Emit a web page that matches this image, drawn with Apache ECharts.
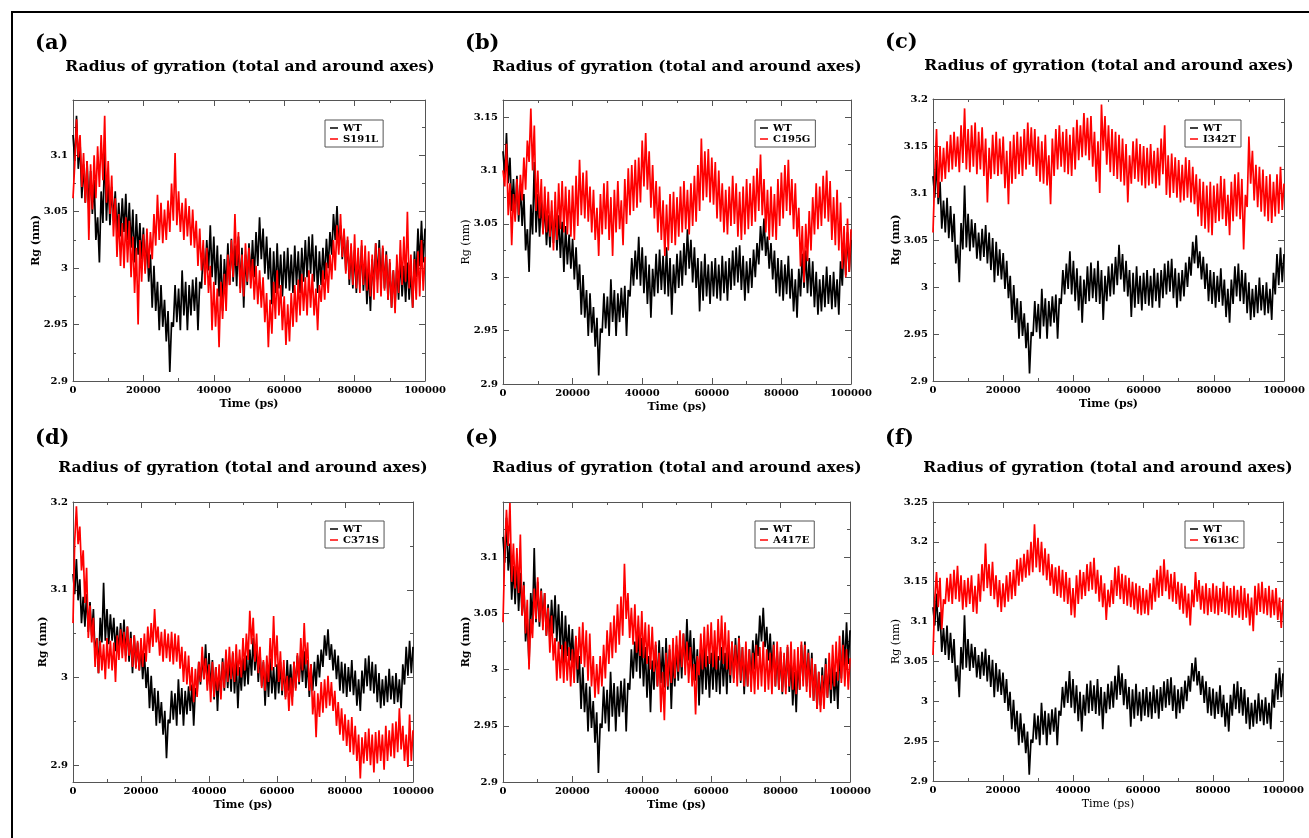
<!DOCTYPE html>
<html>
<head>
<meta charset="utf-8">
<title>Radius of gyration</title>
<script src="https://cdn.jsdelivr.net/npm/echarts@6/dist/echarts.min.js"></script>
<style>
  html, body { margin: 0; padding: 0; background: #fff; }
  #main { width: 1309px; height: 838px; }
</style>
</head>
<body>
<div id="main"></div>
<script>
// The traces are dense MD noise; each run is read off the picture as the
// top edge of its band (at 0, 1000, ... 100000 ps) and the bottom edge
// (at 500, 1500, ... 99500 ps). The line alternates between the two.
const upperStep = 1000

// WT is the same reference run in every panel
const wtUpper = [
  3.118, 3.135, 3.112, 3.092, 3.095, 3.086, 3.078, 3.045, 3.068, 3.108,
  3.078, 3.072, 3.068, 3.058, 3.062, 3.066, 3.058, 3.052, 3.048, 3.040,
  3.036, 3.028, 3.012, 3.002, 2.988, 2.985, 2.972, 2.962, 2.952, 2.985,
  2.982, 2.998, 2.988, 2.985, 2.990, 2.992, 2.988, 3.018, 3.025, 3.038,
  3.028, 3.020, 3.012, 3.008, 3.022, 3.026, 3.020, 3.028, 3.018, 3.012,
  3.022, 3.025, 3.032, 3.045, 3.035, 3.028, 3.018, 3.015, 3.022, 3.012,
  3.015, 3.018, 3.012, 3.020, 3.015, 3.018, 3.025, 3.028, 3.030, 3.020,
  3.015, 3.018, 3.026, 3.032, 3.048, 3.055, 3.038, 3.032, 3.025, 3.018,
  3.016, 3.012, 3.020, 3.008, 2.998, 3.008, 3.022, 3.025, 3.018, 3.015,
  3.005, 2.998, 3.002, 3.010, 3.002, 3.005, 2.998, 3.015, 3.035, 3.042,
  3.035
]
const wtLower = [
  3.095, 3.088, 3.062, 3.058, 3.052, 3.048, 3.025, 3.005, 3.040, 3.042,
  3.038, 3.042, 3.030, 3.028, 3.032, 3.025, 3.018, 3.005, 3.012, 3.008,
  2.998, 2.988, 2.965, 2.962, 2.945, 2.948, 2.935, 2.908, 2.948, 2.952,
  2.945, 2.958, 2.945, 2.958, 2.962, 2.945, 2.982, 2.992, 2.998, 2.992,
  2.985, 2.975, 2.962, 2.982, 2.985, 2.988, 2.984, 2.982, 2.965, 2.985,
  2.990, 2.992, 3.002, 3.008, 2.995, 2.990, 2.968, 2.978, 2.982, 2.975,
  2.982, 2.980, 2.978, 2.985, 2.978, 2.988, 2.992, 2.995, 2.988, 2.978,
  2.985, 2.990, 3.000, 3.012, 3.025, 3.020, 3.008, 2.998, 2.985, 2.982,
  2.978, 2.984, 2.980, 2.968, 2.962, 2.982, 2.990, 2.985, 2.982, 2.972,
  2.965, 2.968, 2.972, 2.975, 2.970, 2.972, 2.965, 2.992, 3.002, 3.005
]

const s191lUpper = [
  3.062, 3.132, 3.118, 3.102, 3.095, 3.092, 3.100, 3.108, 3.118, 3.135,
  3.095, 3.082, 3.062, 3.048, 3.040, 3.045, 3.042, 3.028, 3.018, 3.025,
  3.030, 3.035, 3.032, 3.048, 3.065, 3.058, 3.052, 3.060, 3.075, 3.102,
  3.068, 3.058, 3.062, 3.055, 3.052, 3.042, 3.035, 3.025, 3.018, 3.002,
  2.988, 2.982, 2.988, 2.995, 3.012, 3.025, 3.048, 3.032, 3.012, 3.022,
  3.018, 3.008, 3.002, 2.998, 2.992, 2.978, 2.972, 2.988, 2.998, 2.985,
  2.975, 2.968, 2.978, 2.985, 2.990, 2.995, 2.992, 2.998, 2.995, 2.982,
  2.985, 2.998, 3.005, 3.012, 3.025, 3.038, 3.048, 3.035, 3.028, 3.022,
  3.030, 3.018, 3.025, 3.020, 3.015, 3.012, 3.022, 3.018, 3.020, 3.012,
  3.008, 2.998, 3.012, 3.025, 3.028, 3.050, 3.012, 3.008, 3.015, 3.025,
  3.010
]
const s191lLower = [
  3.092, 3.098, 3.072, 3.058, 3.025, 3.052, 3.062, 3.072, 3.078, 3.058,
  3.048, 3.028, 3.010, 3.002, 3.000, 3.005, 2.992, 2.978, 2.950, 2.988,
  2.995, 3.000, 3.008, 3.020, 3.025, 3.022, 3.025, 3.032, 3.042, 3.038,
  3.032, 3.025, 3.028, 3.020, 3.018, 3.002, 2.998, 2.985, 2.978, 2.945,
  2.948, 2.930, 2.955, 2.962, 2.985, 2.992, 3.002, 2.978, 2.975, 2.988,
  2.982, 2.972, 2.968, 2.965, 2.952, 2.930, 2.942, 2.955, 2.958, 2.945,
  2.932, 2.935, 2.948, 2.952, 2.958, 2.962, 2.958, 2.965, 2.958, 2.945,
  2.970, 2.972, 2.978, 2.990, 2.998, 3.012, 3.010, 2.995, 2.990, 2.985,
  2.982, 2.978, 2.985, 2.980, 2.975, 2.972, 2.978, 2.975, 2.980, 2.972,
  2.965, 2.960, 2.978, 2.985, 2.988, 2.982, 2.965, 2.972, 2.975, 2.980
]

const c195gUpper = [
  3.100, 3.125, 3.088, 3.078, 3.092, 3.096, 3.112, 3.128, 3.158, 3.142,
  3.100, 3.092, 3.085, 3.080, 3.072, 3.080, 3.088, 3.090, 3.085, 3.082,
  3.086, 3.095, 3.110, 3.098, 3.100, 3.085, 3.082, 3.065, 3.078, 3.088,
  3.090, 3.075, 3.082, 3.090, 3.072, 3.092, 3.102, 3.105, 3.110, 3.112,
  3.128, 3.135, 3.118, 3.105, 3.090, 3.085, 3.072, 3.068, 3.078, 3.080,
  3.075, 3.085, 3.090, 3.082, 3.088, 3.095, 3.105, 3.130, 3.118, 3.120,
  3.112, 3.108, 3.100, 3.088, 3.082, 3.085, 3.095, 3.088, 3.080, 3.085,
  3.092, 3.088, 3.095, 3.102, 3.115, 3.092, 3.082, 3.085, 3.078, 3.092,
  3.098, 3.105, 3.110, 3.092, 3.088, 3.065, 3.048, 3.050, 3.062, 3.075,
  3.088, 3.085, 3.095, 3.100, 3.090, 3.075, 3.082, 3.070, 3.048, 3.055,
  3.045
]
const c195gLower = [
  3.085, 3.058, 3.030, 3.052, 3.058, 3.072, 3.082, 3.108, 3.100, 3.062,
  3.055, 3.040, 3.042, 3.038, 3.025, 3.035, 3.045, 3.042, 3.040, 3.038,
  3.035, 3.048, 3.058, 3.055, 3.052, 3.042, 3.035, 3.020, 3.040, 3.045,
  3.035, 3.020, 3.042, 3.045, 3.030, 3.050, 3.058, 3.062, 3.065, 3.070,
  3.085, 3.082, 3.065, 3.055, 3.042, 3.035, 3.020, 3.025, 3.032, 3.030,
  3.038, 3.042, 3.045, 3.040, 3.048, 3.052, 3.062, 3.072, 3.075, 3.070,
  3.068, 3.055, 3.052, 3.042, 3.040, 3.048, 3.050, 3.038, 3.035, 3.040,
  3.045, 3.048, 3.052, 3.062, 3.058, 3.042, 3.035, 3.038, 3.035, 3.048,
  3.055, 3.062, 3.058, 3.045, 3.038, 3.010, 2.995, 3.015, 3.025, 3.040,
  3.045, 3.048, 3.055, 3.052, 3.035, 3.030, 3.025, 3.008, 3.000, 3.005
]

const i342tUpper = [
  3.058, 3.168, 3.150, 3.148, 3.155, 3.162, 3.165, 3.160, 3.172, 3.190,
  3.168, 3.172, 3.175, 3.165, 3.170, 3.158, 3.148, 3.162, 3.165, 3.158,
  3.160, 3.145, 3.155, 3.162, 3.165, 3.160, 3.168, 3.175, 3.170, 3.168,
  3.160, 3.155, 3.162, 3.140, 3.158, 3.168, 3.172, 3.165, 3.168, 3.162,
  3.170, 3.178, 3.172, 3.185, 3.180, 3.182, 3.165, 3.155, 3.194, 3.182,
  3.172, 3.168, 3.165, 3.162, 3.158, 3.152, 3.140, 3.155, 3.158, 3.152,
  3.150, 3.148, 3.152, 3.145, 3.148, 3.158, 3.172, 3.140, 3.142, 3.138,
  3.135, 3.130, 3.138, 3.135, 3.128, 3.120, 3.115, 3.112, 3.108, 3.112,
  3.108, 3.110, 3.118, 3.115, 3.098, 3.112, 3.120, 3.122, 3.115, 3.098,
  3.160, 3.145, 3.130, 3.128, 3.125, 3.118, 3.120, 3.112, 3.120, 3.128,
  3.110
]
const i342tLower = [
  3.118, 3.095, 3.112, 3.115, 3.122, 3.125, 3.128, 3.122, 3.132, 3.125,
  3.122, 3.128, 3.120, 3.125, 3.118, 3.090, 3.115, 3.120, 3.118, 3.120,
  3.105, 3.088, 3.110, 3.115, 3.120, 3.118, 3.125, 3.130, 3.128, 3.118,
  3.112, 3.110, 3.108, 3.088, 3.118, 3.125, 3.128, 3.122, 3.120, 3.118,
  3.125, 3.135, 3.138, 3.140, 3.135, 3.128, 3.112, 3.100, 3.145, 3.130,
  3.122, 3.118, 3.115, 3.112, 3.108, 3.090, 3.110, 3.115, 3.112, 3.108,
  3.105, 3.108, 3.110, 3.105, 3.108, 3.120, 3.098, 3.095, 3.100, 3.095,
  3.090, 3.092, 3.095, 3.090, 3.088, 3.075, 3.065, 3.062, 3.058, 3.055,
  3.068, 3.070, 3.072, 3.065, 3.055, 3.070, 3.075, 3.072, 3.040, 3.085,
  3.110, 3.092, 3.085, 3.080, 3.075, 3.070, 3.068, 3.075, 3.078, 3.082
]

const c371sUpper = [
  3.062, 3.195, 3.172, 3.145, 3.125, 3.082, 3.068, 3.045, 3.042, 3.038,
  3.045, 3.042, 3.040, 3.048, 3.055, 3.052, 3.058, 3.045, 3.048, 3.042,
  3.045, 3.050, 3.058, 3.062, 3.078, 3.058, 3.052, 3.055, 3.050, 3.052,
  3.050, 3.048, 3.035, 3.030, 3.025, 3.012, 3.010, 3.018, 3.035, 3.022,
  3.015, 3.018, 3.012, 3.015, 3.018, 3.032, 3.035, 3.030, 3.038, 3.032,
  3.045, 3.050, 3.076, 3.068, 3.050, 3.035, 3.020, 3.025, 3.045, 3.070,
  3.048, 3.030, 3.020, 3.002, 3.000, 3.018, 3.028, 3.045, 3.062, 3.040,
  3.015, 2.985, 2.982, 2.995, 2.998, 3.002, 2.995, 2.985, 2.972, 2.965,
  2.958, 2.952, 2.955, 2.945, 2.935, 2.932, 2.938, 2.942, 2.935, 2.938,
  2.940, 2.935, 2.945, 2.940, 2.948, 2.950, 2.965, 2.945, 2.935, 2.958,
  2.940
]
const c371sLower = [
  3.155, 3.152, 3.122, 3.085, 3.045, 3.040, 3.012, 3.005, 3.008, 2.998,
  3.010, 3.008, 2.995, 3.020, 3.022, 3.018, 3.025, 3.012, 3.010, 3.008,
  3.012, 3.018, 3.028, 3.035, 3.040, 3.025, 3.018, 3.022, 3.018, 3.015,
  3.018, 3.010, 2.995, 2.992, 2.985, 2.972, 2.978, 2.995, 2.998, 2.985,
  2.972, 2.978, 2.985, 2.975, 2.988, 2.995, 2.998, 2.995, 3.002, 3.000,
  3.008, 3.020, 3.038, 3.018, 3.005, 2.988, 2.985, 2.995, 3.008, 3.012,
  2.995, 2.985, 2.975, 2.962, 2.968, 2.985, 2.995, 3.008, 3.015, 2.985,
  2.958, 2.932, 2.955, 2.960, 2.965, 2.968, 2.962, 2.945, 2.935, 2.928,
  2.922, 2.915, 2.912, 2.905, 2.885, 2.902, 2.905, 2.900, 2.892, 2.902,
  2.905, 2.895, 2.905, 2.910, 2.908, 2.915, 2.918, 2.905, 2.898, 2.905
]

const a417eUpper = [
  3.042, 3.142, 3.148, 3.112, 3.108, 3.120, 3.075, 3.062, 3.045, 3.072,
  3.082, 3.070, 3.068, 3.055, 3.048, 3.028, 3.025, 3.022, 3.025, 3.020,
  3.018, 3.030, 3.038, 3.042, 3.035, 3.032, 3.012, 3.005, 3.012, 3.022,
  3.035, 3.042, 3.048, 3.058, 3.065, 3.094, 3.068, 3.055, 3.058, 3.048,
  3.052, 3.042, 3.040, 3.038, 3.025, 3.015, 2.998, 3.015, 3.022, 3.028,
  3.030, 3.035, 3.032, 3.025, 3.020, 3.005, 3.012, 3.032, 3.038, 3.040,
  3.042, 3.035, 3.045, 3.048, 3.042, 3.035, 3.025, 3.022, 3.028, 3.020,
  3.025, 3.018, 3.015, 3.022, 3.020, 3.025, 3.018, 3.015, 3.022, 3.025,
  3.020, 3.015, 3.022, 3.025, 3.018, 3.020, 3.025, 3.022, 3.015, 3.010,
  3.005, 2.998, 2.995, 3.005, 3.015, 3.022, 3.025, 3.030, 3.022, 3.018,
  3.010
]
const a417eLower = [
  3.105, 3.110, 3.078, 3.072, 3.068, 3.048, 3.032, 3.000, 3.028, 3.045,
  3.042, 3.035, 3.030, 3.015, 3.008, 2.990, 2.992, 2.988, 2.990, 2.985,
  2.988, 3.000, 3.005, 3.002, 2.990, 2.985, 2.975, 2.978, 2.985, 2.992,
  3.005, 3.010, 3.015, 3.022, 3.030, 3.045, 3.028, 3.022, 3.015, 3.012,
  3.010, 3.005, 3.000, 2.998, 2.985, 2.962, 2.955, 2.985, 2.988, 2.992,
  2.998, 3.002, 2.995, 2.988, 2.985, 2.960, 2.995, 3.000, 3.002, 3.005,
  3.002, 3.000, 3.008, 3.005, 3.000, 2.995, 2.988, 2.985, 2.990, 2.985,
  2.985, 2.980, 2.978, 2.982, 2.985, 2.980, 2.982, 2.978, 2.985, 2.982,
  2.980, 2.978, 2.985, 2.982, 2.978, 2.982, 2.985, 2.980, 2.975, 2.972,
  2.965, 2.962, 2.965, 2.975, 2.982, 2.985, 2.990, 2.988, 2.985, 2.982
]

const y613cUpper = [
  3.058, 3.162, 3.155, 3.128, 3.155, 3.160, 3.165, 3.170, 3.158, 3.152,
  3.155, 3.158, 3.145, 3.160, 3.172, 3.198, 3.172, 3.175, 3.158, 3.152,
  3.148, 3.158, 3.162, 3.165, 3.178, 3.180, 3.185, 3.190, 3.200, 3.222,
  3.205, 3.200, 3.192, 3.185, 3.172, 3.168, 3.170, 3.165, 3.162, 3.155,
  3.142, 3.158, 3.165, 3.162, 3.172, 3.175, 3.180, 3.165, 3.158, 3.148,
  3.140, 3.152, 3.168, 3.170, 3.160, 3.158, 3.155, 3.150, 3.148, 3.145,
  3.142, 3.140, 3.148, 3.155, 3.165, 3.170, 3.178, 3.165, 3.160, 3.162,
  3.150, 3.148, 3.145, 3.135, 3.140, 3.162, 3.152, 3.145, 3.148, 3.142,
  3.148, 3.145, 3.142, 3.150, 3.145, 3.142, 3.145, 3.140, 3.145, 3.142,
  3.135, 3.130, 3.145, 3.148, 3.150, 3.142, 3.145, 3.140, 3.142, 3.130,
  3.128
]
const y613cLower = [
  3.128, 3.118, 3.090, 3.122, 3.125, 3.122, 3.128, 3.125, 3.115, 3.118,
  3.122, 3.112, 3.110, 3.125, 3.138, 3.142, 3.132, 3.128, 3.118, 3.112,
  3.118, 3.125, 3.128, 3.132, 3.145, 3.150, 3.155, 3.158, 3.162, 3.168,
  3.162, 3.158, 3.152, 3.145, 3.135, 3.132, 3.130, 3.125, 3.122, 3.108,
  3.105, 3.122, 3.128, 3.132, 3.138, 3.140, 3.135, 3.125, 3.118, 3.102,
  3.118, 3.122, 3.132, 3.128, 3.122, 3.120, 3.118, 3.115, 3.110, 3.108,
  3.110, 3.108, 3.115, 3.125, 3.130, 3.132, 3.138, 3.128, 3.125, 3.122,
  3.115, 3.110, 3.105, 3.095, 3.118, 3.125, 3.115, 3.110, 3.108, 3.112,
  3.110, 3.108, 3.112, 3.110, 3.108, 3.105, 3.108, 3.105, 3.102, 3.105,
  3.095, 3.088, 3.108, 3.112, 3.110, 3.108, 3.105, 3.108, 3.102, 3.092
]

// tick values
const xTicks = [0, 20000, 40000, 60000, 80000, 100000]
const xMinor = [10000, 30000, 50000, 70000, 90000]
const yTicks5 = [2.9, 2.95, 3, 3.05, 3.1]
const yMinor5 = [2.925, 2.975, 3.025, 3.075, 3.125]
const yTicks6 = [2.9, 2.95, 3, 3.05, 3.1, 3.15]
const yMinor6 = [2.925, 2.975, 3.025, 3.075, 3.125]
const yTicks7 = [2.9, 2.95, 3, 3.05, 3.1, 3.15, 3.2]
const yMinor7 = [2.925, 2.975, 3.025, 3.075, 3.125, 3.175]
const yTicksD = [2.9, 3, 3.1, 3.2]
const yMinorD = [2.95, 3.05, 3.15]
const yTicks8 = [2.9, 2.95, 3, 3.05, 3.1, 3.15, 3.2, 3.25]
const yMinor8 = [2.925, 2.975, 3.025, 3.075, 3.125, 3.175, 3.225]

const panels = [
  { tag: '(a)', mutant: 'S191L', upper: s191lUpper, lower: s191lLower, yMin: 2.9, yMax: 3.149, yTicks: yTicks5, yMinor: yMinor5,
    box: [73, 100, 352, 281], tagPos: [35, 44], titlePos: [250, 67], legendPos: [325, 120], yNameGap: 31, yBold: true, xBold: true },
  { tag: '(b)', mutant: 'C195G', upper: c195gUpper, lower: c195gLower, yMin: 2.9, yMax: 3.166, yTicks: yTicks6, yMinor: yMinor6,
    box: [503, 100, 348, 284], tagPos: [465, 44], titlePos: [677, 67], legendPos: [755, 120], yNameGap: 31, yBold: false, xBold: true },
  { tag: '(c)', mutant: 'I342T', upper: i342tUpper, lower: i342tLower, yMin: 2.9, yMax: 3.2, yTicks: yTicks7, yMinor: yMinor7,
    box: [933, 99, 351, 282], tagPos: [885, 43], titlePos: [1109, 66], legendPos: [1185, 120], yNameGap: 31, yBold: true, xBold: true },
  { tag: '(d)', mutant: 'C371S', upper: c371sUpper, lower: c371sLower, yMin: 2.881, yMax: 3.2, yTicks: yTicksD, yMinor: yMinorD,
    box: [73, 502, 340, 280], tagPos: [35, 439], titlePos: [243, 468], legendPos: [325, 521], yNameGap: 24, yBold: true, xBold: true },
  { tag: '(e)', mutant: 'A417E', upper: a417eUpper, lower: a417eLower, yMin: 2.9, yMax: 3.149, yTicks: yTicks5, yMinor: yMinor5,
    box: [503, 502, 347, 280], tagPos: [465, 439], titlePos: [677, 468], legendPos: [755, 521], yNameGap: 31, yBold: true, xBold: true },
  { tag: '(f)', mutant: 'Y613C', upper: y613cUpper, lower: y613cLower, yMin: 2.9, yMax: 3.25, yTicks: yTicks8, yMinor: yMinor8,
    box: [933, 502, 350, 279], tagPos: [885, 439], titlePos: [1108, 468], legendPos: [1185, 521], yNameGap: 31, yBold: false, xBold: false }
]

const font = 'DejaVu Serif'
const axisColor = '#555'

// alternate top-edge and bottom-edge readings into one trace
function trace(upper, lower) {
  const pts = []
  upper.forEach((v, k) => {
    pts.push([k * upperStep, v])
    if (k < lower.length) pts.push([k * upperStep + upperStep / 2, lower[k]])
  })
  return pts
}

function tickAxis(gridIndex, position, min, max, ticks, length, lineShown) {
  return {
    type: 'value',
    gridIndex: gridIndex,
    position: position,
    min: min,
    max: max,
    axisLine: { show: lineShown, onZero: false, lineStyle: { color: axisColor, width: 1 } },
    axisTick: { show: true, inside: true, length: length, customValues: ticks, lineStyle: { color: axisColor } },
    axisLabel: { show: false },
    splitLine: { show: false }
  }
}

const option = {
  animation: false,
  backgroundColor: '#fff',
  grid: [],
  xAxis: [],
  yAxis: [],
  legend: [],
  series: [],
  graphic: [
    { type: 'line', shape: { x1: 11, y1: 12, x2: 1309, y2: 12 }, style: { stroke: '#000', lineWidth: 2 } },
    { type: 'line', shape: { x1: 12, y1: 12, x2: 12, y2: 838 }, style: { stroke: '#000', lineWidth: 2 } }
  ]
}

const wtTrace = trace(wtUpper, wtLower)

panels.forEach((p, i) => {
  option.grid.push({ left: p.box[0], top: p.box[1], width: p.box[2], height: p.box[3] })

  const xBase = option.xAxis.length
  const yBase = option.yAxis.length

  // bottom axis with labels
  const xMain = tickAxis(i, 'bottom', 0, 100000, xTicks, 6, true)
  xMain.axisLabel = { show: true, customValues: xTicks, margin: 4, color: '#000',
    fontFamily: font, fontWeight: 'bold', fontSize: 10, formatter: v => String(v) }
  xMain.name = 'Time (ps)'
  xMain.nameLocation = 'middle'
  xMain.nameGap = 18
  xMain.nameTextStyle = { color: '#000', fontFamily: font, fontWeight: p.xBold ? 'bold' : 'normal', fontSize: 11 }
  option.xAxis.push(xMain)
  option.xAxis.push(tickAxis(i, 'bottom', 0, 100000, xMinor, 3, false))
  option.xAxis.push(tickAxis(i, 'top', 0, 100000, xTicks, 6, true))
  option.xAxis.push(tickAxis(i, 'top', 0, 100000, xMinor, 3, false))

  // left axis with labels
  const yMain = tickAxis(i, 'left', p.yMin, p.yMax, p.yTicks, 6, true)
  yMain.axisLabel = { show: true, customValues: p.yTicks, margin: 5, color: '#000',
    fontFamily: font, fontWeight: 'bold', fontSize: 10, formatter: v => String(v) }
  yMain.name = 'Rg (nm)'
  yMain.nameLocation = 'middle'
  yMain.nameGap = p.yNameGap
  yMain.nameRotate = 90
  yMain.nameMoveOverlap = false
  yMain.nameTextStyle = { color: '#000', fontFamily: font, fontWeight: p.yBold ? 'bold' : 'normal', fontSize: 11 }
  option.yAxis.push(yMain)
  option.yAxis.push(tickAxis(i, 'left', p.yMin, p.yMax, p.yMinor, 3, false))
  option.yAxis.push(tickAxis(i, 'right', p.yMin, p.yMax, p.yTicks, 6, true))
  option.yAxis.push(tickAxis(i, 'right', p.yMin, p.yMax, p.yMinor, 3, false))

  option.series.push({
    name: 'WT',
    type: 'line',
    xAxisIndex: xBase,
    yAxisIndex: yBase,
    data: wtTrace,
    showSymbol: false,
    symbol: 'none',
    color: '#000',
    lineStyle: { width: 1.7, color: '#000' },
    z: 2
  })
  option.series.push({
    name: p.mutant,
    type: 'line',
    xAxisIndex: xBase,
    yAxisIndex: yBase,
    data: trace(p.upper, p.lower),
    showSymbol: false,
    symbol: 'none',
    color: '#f00',
    lineStyle: { width: 1.7, color: '#f00' },
    z: 3
  })

  option.legend.push({
    left: p.legendPos[0],
    top: p.legendPos[1],
    orient: 'vertical',
    data: ['WT', p.mutant],
    icon: 'rect',
    itemWidth: 8,
    itemHeight: 1.5,
    itemGap: 1,
    padding: [3, 5, 3, 5],
    borderColor: axisColor,
    borderWidth: 1,
    backgroundColor: '#fff',
    selectedMode: false,
    textStyle: { color: '#000', fontFamily: font, fontWeight: 'bold', fontSize: 10 }
  })

  option.graphic.push({
    type: 'text', x: p.tagPos[0], y: p.tagPos[1],
    style: { text: p.tag, fill: '#000', font: 'bold 21px "DejaVu Serif"', align: 'left', verticalAlign: 'middle' }
  })
  option.graphic.push({
    type: 'text', x: p.titlePos[0], y: p.titlePos[1],
    style: { text: 'Radius of gyration (total and around axes)', fill: '#000',
      font: 'bold 15.5px "DejaVu Serif"', align: 'center', verticalAlign: 'middle' }
  })
})

const chart = echarts.init(document.getElementById('main'))
chart.setOption(option)
</script>
</body>
</html>
